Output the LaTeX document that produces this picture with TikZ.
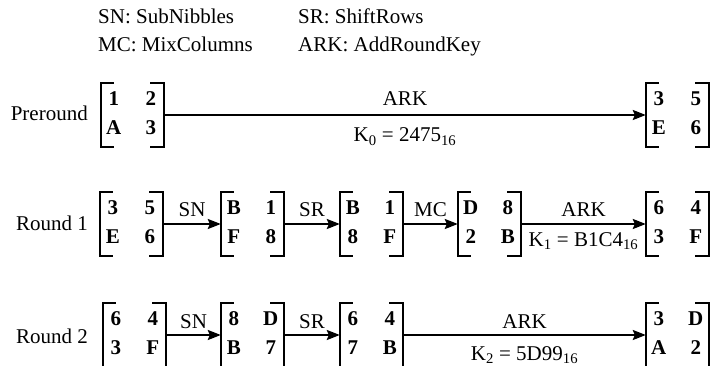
\documentclass[tikz,border=0pt]{standalone}
\usepackage{fontspec}
\setmainfont{Liberation Serif}
\usetikzlibrary{arrows.meta}
\newcommand\nmat[7]{%
  \node[matbox] (#1) at ({#2+31.5},{#3+32}) {};
  \draw[brk] ([xshift=13pt]#1.north west) -- (#1.north west) -- (#1.south west) -- ([xshift=13pt]#1.south west);
  \draw[brk] ([xshift=-14pt]#1.north east) -- (#1.north east) -- (#1.south east) -- ([xshift=-14pt]#1.south east);
  \node[ent] (#1-a) at ([xshift=13pt,yshift=-23pt]#1.north west) {#4};
  \node[ent] (#1-b) at ([xshift=50pt,yshift=-23pt]#1.north west) {#5};
  \node[ent] (#1-c) at ([xshift=13pt,yshift=-52pt]#1.north west) {#6};
  \node[ent] (#1-d) at ([xshift=50pt,yshift=-52pt]#1.north west) {#7};
}
\begin{document}
\begin{tikzpicture}[x=1pt,y=-1pt,
  every node/.style={font=\fontsize{21}{24}\selectfont, inner sep=0pt},
  matbox/.style={minimum width=63pt, minimum height=64pt, inner sep=0pt},
  brk/.style={line width=1.6pt},
  ent/.style={font=\fontsize{21}{24}\selectfont\bfseries, anchor=base},
  arr/.style={line width=2pt, -{Stealth[length=13pt,width=10pt,inset=2pt]}},
  lbl/.style={anchor=base}]
\useasboundingbox (0,0) rectangle (714,366);
% legend
\node[anchor=base west] (h1) at (98,24) {SN: SubNibbles};
\node[anchor=base west] (h2) at (298,24) {SR: ShiftRows};
\node[anchor=base west] (h3) at (98,52) {MC: MixColumns};
\node[anchor=base west] (h4) at (298,52) {ARK: AddRoundKey};
% row labels
\node[anchor=base east] (l0) at (88,121) {Preround};
\node[anchor=base east] (l1) at (88,230) {Round 1};
\node[anchor=base east] (l2) at (88,343) {Round 2};
% preround
\nmat{p0}{101}{83}{1}{2}{A}{3}
\nmat{p1}{646}{83}{3}{5}{E}{6}
\draw[arr] (p0.east) -- node[lbl,yshift=9pt]{ARK} node[lbl,yshift=-27pt]{K\textsubscript{0} = 2475\textsubscript{16}} (p1.west);
% round 1
\nmat{a0}{100}{192}{3}{5}{E}{6}
\nmat{a1}{221}{192}{B}{1}{F}{8}
\nmat{a2}{340}{192}{B}{1}{8}{F}
\nmat{a3}{458}{192}{D}{8}{2}{B}
\nmat{a4}{646}{192}{6}{4}{3}{F}
\draw[arr] (a0.east) -- node[lbl,yshift=8pt]{SN} (a1.west);
\draw[arr] (a1.east) -- node[lbl,yshift=8pt]{SR} (a2.west);
\draw[arr] (a2.east) -- node[lbl,yshift=8pt]{MC} (a3.west);
\draw[arr] (a3.east) -- node[lbl,yshift=8pt]{ARK} node[lbl,yshift=-22pt]{K\textsubscript{1} = B1C4\textsubscript{16}} (a4.west);
% round 2
\nmat{b0}{103}{303}{6}{4}{3}{F}
\nmat{b1}{221}{303}{8}{D}{B}{7}
\nmat{b2}{340}{303}{6}{4}{7}{B}
\nmat{b3}{646}{303}{3}{D}{A}{2}
\draw[arr] (b0.east) -- node[lbl,yshift=7pt]{SN} (b1.west);
\draw[arr] (b1.east) -- node[lbl,yshift=7pt]{SR} (b2.west);
\draw[arr] (b2.east) -- node[lbl,yshift=7pt]{ARK} node[lbl,yshift=-25pt]{K\textsubscript{2} = 5D99\textsubscript{16}} (b3.west);
\end{tikzpicture}
\end{document}
